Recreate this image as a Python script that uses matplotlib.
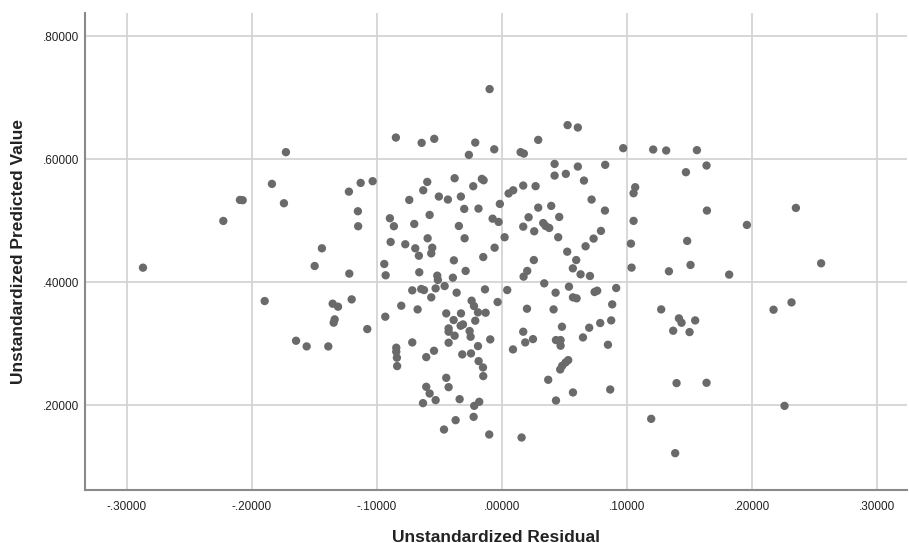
import matplotlib
matplotlib.use("Agg")
import matplotlib.pyplot as plt
from matplotlib.ticker import FuncFormatter

residual = [
    -0.1728, -0.1840, -0.2096, -0.2074, -0.1744, -0.2229, -0.1440, -0.1498, -0.2872,
    -0.1898, -0.1354, -0.1338, -0.1346, -0.1647, -0.1562, -0.1389,
    -0.0098, -0.0848, -0.0642, -0.0541, -0.0213, -0.0264, -0.0061, 0.0150, 0.0176,
    0.0291, 0.0526, 0.0608, 0.0422, 0.0422, 0.0512, 0.0608, -0.1224, -0.1130,
    -0.1034, -0.1152, -0.1150, -0.1221, -0.0597, -0.0629, -0.0378, -0.0160, -0.0146,
    -0.0229, -0.0741, -0.0504, -0.0432, -0.0328, -0.0301, -0.0187, -0.0578, -0.0896,
    -0.0864, -0.0701, -0.0344, -0.0074, -0.0026, -0.0016, 0.0054, 0.0091, 0.0171,
    0.0270, 0.0291, 0.0395, 0.0214, 0.0459, 0.0171, 0.0259, 0.0331, 0.0350, 0.0379,
    0.0451, 0.0022, -0.0298, -0.0594, -0.0890, -0.0773, -0.0693, -0.0557, -0.0565,
    -0.0664, -0.0384, -0.0149, -0.0058, 0.0523, 0.0595, 0.0568, 0.0256, 0.0203,
    0.0174, -0.0941, -0.0930, -0.0661, -0.0517, -0.0392, -0.0290,
    0.0971, 0.1211, 0.1315, 0.1561, 0.0827, 0.1473, 0.1638, 0.0657, 0.1067, 0.1054,
    0.0718, 0.0825, 0.1641, 0.2353, 0.1054, 0.1961, 0.0793, 0.0734, 0.0670, 0.1033,
    0.1483, 0.1038, 0.1337, 0.1510, 0.1819, 0.2555, 0.0630, 0.0705,
    0.0598, 0.0742, 0.0763, 0.0915, 0.0883, 0.0875, 0.0787, 0.0699, 0.0649, 0.0849,
    0.0867, 0.1275, 0.1417, 0.1438, 0.1547, 0.1371, 0.1502, 0.1398, 0.1638, 0.2174,
    0.2318, 0.2262, 0.1195, 0.1387,
    -0.0512, -0.0717, -0.0645, -0.0623, -0.0565, -0.0530, -0.0458, -0.0362, -0.0135,
    0.0043, 0.0339, 0.0430, 0.0537, 0.0569, -0.1202, -0.1311, -0.0034, -0.0242,
    -0.0223, -0.0191, -0.0130, -0.0213, 0.0201, 0.0414, -0.1077, -0.0933, -0.0805,
    -0.0674, -0.0445, -0.0386, -0.0327, -0.0426, -0.0426, -0.0378, -0.0330, -0.0311,
    -0.0258, -0.0250, -0.0426, -0.0717, -0.0845, -0.0845, -0.0840, -0.0838, -0.0093,
    -0.0191, 0.0171, 0.0187, 0.0249, 0.0481, 0.0433, 0.0470, 0.0470, 0.0089, -0.0543,
    -0.0605, -0.0317, -0.0247, -0.0186, -0.0151, -0.0149, 0.0531, 0.0510, 0.0483,
    0.0467, 0.0371, -0.0445, -0.0426, -0.0605, -0.0578, -0.0530, -0.0631, -0.0338,
    -0.0181, -0.0221, 0.0433, -0.0226, -0.0370, -0.0463, -0.0101, 0.0158, 0.0569,
]

predicted = [
    0.6114, 0.5598, 0.5337, 0.5333, 0.5283, 0.4995, 0.4550, 0.4262, 0.4235,
    0.3692, 0.3649, 0.3394, 0.3340, 0.3046, 0.2954, 0.2954,
    0.7140, 0.6352, 0.6265, 0.6331, 0.6270, 0.6070, 0.6161, 0.6114, 0.6091,
    0.6314, 0.6554, 0.6515, 0.5923, 0.5733, 0.5761, 0.5880, 0.5472, 0.5614,
    0.5642, 0.5153, 0.4909, 0.4138, 0.5630, 0.5494, 0.5690, 0.5679, 0.5657,
    0.5560, 0.5337, 0.5392, 0.5343, 0.5392, 0.5191, 0.5196, 0.5093, 0.5039,
    0.4909, 0.4946, 0.4913, 0.5032, 0.4979, 0.5272, 0.5442, 0.5494, 0.5571,
    0.5561, 0.5212, 0.5240, 0.5055, 0.5060, 0.4902, 0.4827, 0.4961, 0.4913, 0.4881,
    0.4730, 0.4730, 0.4713, 0.4713, 0.4653, 0.4616, 0.4550, 0.4560, 0.4468,
    0.4429, 0.4354, 0.4408, 0.4560, 0.4495, 0.4359, 0.4224, 0.4359, 0.4182,
    0.4089, 0.4295, 0.4111, 0.4160, 0.4105, 0.4072, 0.4182,
    0.6179, 0.6157, 0.6141, 0.6147, 0.5908, 0.5788, 0.5897, 0.5652, 0.5544, 0.5446,
    0.5343, 0.5164, 0.5164, 0.5207, 0.4996, 0.4930, 0.4833, 0.4708, 0.4583, 0.4626,
    0.4670, 0.4236, 0.4176, 0.4279, 0.4122, 0.4306, 0.4127, 0.4100,
    0.3736, 0.3839, 0.3860, 0.3904, 0.3638, 0.3377, 0.3334, 0.3258, 0.3100, 0.2981,
    0.2253, 0.3556, 0.3410, 0.3339, 0.3377, 0.3209, 0.3187, 0.2357, 0.2362, 0.3551,
    0.3670, 0.1987, 0.1776, 0.1217,
    0.4035, 0.3866, 0.3888, 0.3871, 0.3752, 0.3898, 0.3936, 0.3828, 0.3882,
    0.3871, 0.3980, 0.3828, 0.3926, 0.3752, 0.3719, 0.3600, 0.3676, 0.3698,
    0.3611, 0.3508, 0.3502, 0.3372, 0.3567, 0.3556, 0.3236, 0.3437, 0.3616,
    0.3556, 0.3491, 0.3383, 0.3491, 0.3247, 0.3193, 0.3128, 0.3290, 0.3312,
    0.3204, 0.3111, 0.3014, 0.3019, 0.2933, 0.2868, 0.2770, 0.2634, 0.3068,
    0.2959, 0.3193, 0.3019, 0.3073, 0.3274, 0.3057, 0.3057, 0.2965, 0.2905, 0.2883,
    0.2780, 0.2824, 0.2840, 0.2715, 0.2612, 0.2471, 0.2731, 0.2693, 0.2639,
    0.2579, 0.2411, 0.2443, 0.2291, 0.2297, 0.2188, 0.2080, 0.2031, 0.2096,
    0.2053, 0.1987, 0.2074, 0.1808, 0.1754, 0.1602, 0.1521, 0.1472, 0.2205,
]

x_ticks = [-0.3, -0.2, -0.1, 0.0, 0.1, 0.2, 0.3]
y_ticks = [0.2, 0.4, 0.6, 0.8]
x_label = "Unstandardized Residual"
y_label = "Unstandardized Predicted Value"

plt.rcParams['font.family'] = ['Liberation Sans', 'DejaVu Sans']

fig = plt.figure(figsize=(9.09, 5.43), dpi=100)
ax = fig.add_axes([0.0935, 0.0976, 0.904, 0.878])

ax.scatter(residual, predicted, s=36, color='#6a6a6a', edgecolors='none', zorder=3)

ax.set_xlim(-0.3336, 0.324)
ax.set_ylim(0.0618, 0.8374)
ax.set_xticks(x_ticks)
ax.set_yticks(y_ticks)

def spss_fmt(v, pos):
    s = f"{v:.5f}"
    if s.startswith("-0"):
        s = "-" + s[2:]
    elif s.startswith("0"):
        s = s[1:]
    if s == "-.00000":
        s = ".00000"
    return s

ax.xaxis.set_major_formatter(FuncFormatter(spss_fmt))
ax.yaxis.set_major_formatter(FuncFormatter(spss_fmt))

ax.grid(True, color='#d4d4d4', linewidth=1.3, zorder=0)
ax.set_axisbelow(True)
ax.tick_params(axis='both', length=0, labelsize=8.5, colors='#222222')
ax.tick_params(axis='x', pad=8)
ax.tick_params(axis='y', pad=4)

for side in ['top', 'right']:
    ax.spines[side].set_visible(False)
for side in ['left', 'bottom']:
    ax.spines[side].set_color('#8a8a8a')
    ax.spines[side].set_linewidth(1.5)

ax.set_xlabel(x_label, fontsize=12.5, fontweight='bold', color='#222222')
ax.set_ylabel(y_label, fontsize=12.5, fontweight='bold', color='#222222')
ax.xaxis.label.set_va('center')
ax.yaxis.label.set_va('center')
ax.xaxis.set_label_coords(0.5, -0.0986)
ax.yaxis.set_label_coords(-0.0815, 0.5)

fig.savefig("out.png", dpi=100)
